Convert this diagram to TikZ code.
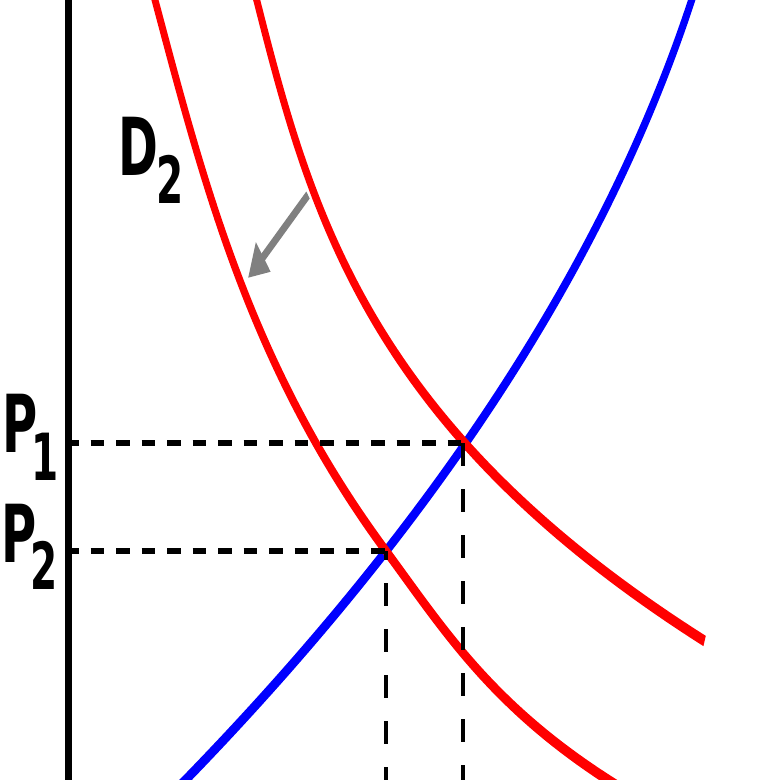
\documentclass[tikz,border=0pt]{standalone}
\usepackage{fontspec}
\newfontfamily\lblfont{DejaVu Sans}
\usetikzlibrary{arrows.meta}
\definecolor{sred}{RGB}{255,0,0}
\definecolor{sblue}{RGB}{0,0,255}
\definecolor{sgray}{RGB}{128,128,128}
\tikzset{
  curveline/.style={line width=11pt},
  hdash/.style={line width=6pt, dash pattern=on 23pt off 19.5pt},
  vdash/.style={line width=6pt, dash pattern=on 23pt off 23pt},
  axisline/.style={line width=12pt},
  biglbl/.style={inner sep=0pt, anchor=base west, font=\lblfont\bfseries\fontsize{80}{80}\selectfont},
  sublbl/.style={inner sep=0pt, anchor=base west, font=\lblfont\bfseries\fontsize{65}{65}\selectfont},
  shiftarrow/.style={sgray, line width=9pt, -{Triangle[length=33pt, width=36pt]}},
}
\begin{document}
\begin{tikzpicture}[x=1pt,y=-1pt]
\useasboundingbox[fill=white] (0,0) rectangle (780,780);
\begin{scope}[transform canvas={xscale=0.6}, x=1.666667pt]
  \clip (0,0) rectangle (780,780);
  % supply
  \draw[curveline, sblue] plot[domain=-10:790, samples=80, variable=\t]
    ({691.7-0.3276*\t-0.0004177*\t*\t}, \t);
  % demand D1
  \draw[curveline, sred] plot[domain=-10:641, samples=80, variable=\t]
    ({256.7+25.35*(\t/100)+0.231*(\t/100)^2+1.0476*(\t/100)^3}, \t);
  % demand D2
  \draw[curveline, sred] plot[domain=-10:551, samples=70, variable=\t]
    ({155+26.61*(\t/100)-0.219*(\t/100)^2+0.5441*(\t/100)^3}, \t)
    -- plot[domain=551:790, samples=40, variable=\t]
    ({386+73.76*((\t-551)/100)-5.098*((\t-551)/100)^2+6.657*((\t-551)/100)^3}, \t);
  % guide lines
  \coordinate (a1) at (65,443);
  \coordinate (e1) at (463,443);
  \coordinate (b1) at (463,790);
  \coordinate (a2) at (65,551);
  \coordinate (e2) at (386,551);
  \coordinate (b2) at (386,790);
  \draw[hdash] (a1) -- (e1);
  \draw[vdash] (e1) -- (b1);
  \draw[hdash] (a2) -- (e2);
  \draw[vdash, dash phase=14pt] (e2) -- (b2);
  % axis
  \coordinate (ytop) at (68.5,-5);
  \coordinate (ybot) at (68.5,785);
  \draw[axisline] (ytop) -- (ybot);
  % shift arrow
  \coordinate (s1) at (308,195);
  \coordinate (s2) at (248,278);
  \draw[shiftarrow] (s1) -- (s2);
  % labels
  \node[biglbl] (lp1) at (2.6,452) {P};
  \node[sublbl] (lp1s) at (31.7,480) {1};
  \node[biglbl] (lp2) at (1.6,562) {P};
  \node[sublbl] (lp2s) at (30,589) {2};
  \node[biglbl] (ld2) at (118.6,175) {D};
  \node[sublbl] (ld2s) at (156,203) {2};
\end{scope}
\end{tikzpicture}
\end{document}
